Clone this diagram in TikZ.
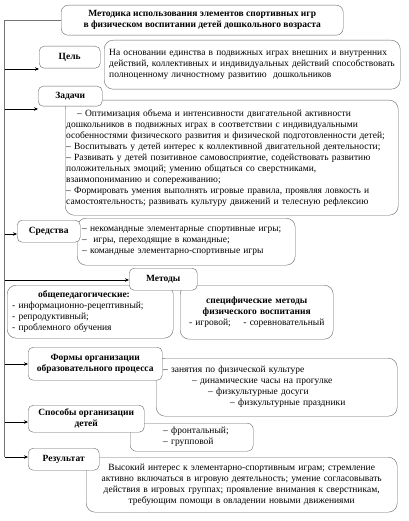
\documentclass[tikz,border=0pt]{standalone}
\usepackage{fontspec}
\setmainfont{Liberation Serif}
\usetikzlibrary{arrows.meta}

\tikzset{
  lbl/.style={draw=black!60, fill=white, rounded corners=5pt, anchor=north west,
    align=center, font=\fontsize{9.5}{11}\selectfont\bfseries, inner sep=1pt},
  txt/.style={draw=black!60, fill=white, rounded corners=9pt, anchor=north west,
    align=left, font=\fontsize{9.5}{11}\selectfont, inner xsep=5pt, inner ysep=1pt},
  trunk/.style={draw=black!55, line width=0.6pt},
  arr/.style={-{Stealth[length=4pt,width=3.5pt]}, line width=0.6pt},
}

\begin{document}
\begin{tikzpicture}[x=1pt,y=-1pt]
  \useasboundingbox (0,0) rectangle (408,521);

  % title
  \node[lbl, minimum width=282pt, minimum height=30pt, rounded corners=7pt] (title) at (61,5)
    {Методика использования элементов спортивных игр\\в физическом воспитании детей дошкольного возраста};

  % text boxes
  \node[txt, text width=286pt, minimum height=49pt] (celT) at (104,40)
    {На основании единства в подвижных играх внешних и внутренних\\
     действий, коллективных и индивидуальных действий способствовать\\
     полноценному личностному развитию\ \ дошкольников};
  \node[txt, text width=331pt, inner xsep=1pt, minimum height=115pt] (zadT) at (65,100)
    {\hspace*{11pt}– Оптимизация объема и интенсивности двигательной активности\\
     дошкольников в подвижных играх в соответствии с индивидуальными\\
     особенностями физического развития и физической подготовленности детей;\\
     – Воспитывать у детей интерес к коллективной двигательной деятельности;\\
     – Развивать у детей позитивное самовосприятие, содействовать развитию\\
     положительных эмоций; умению общаться со сверстниками,\\
     взаимопониманию и сопереживанию;\\
     – Формировать умения выполнять игровые правила, проявляя ловкость и\\
     самостоятельность; развивать культуру движений и телесную рефлексию};
  \node[txt, text width=208pt, minimum height=47pt] (sredT) at (77,218)
    {– некомандные элементарные спортивные игры;\\
     –\ \ игры, переходящие в командные;\\
     – командные элементарно-спортивные игры};
  \node[txt, text width=156pt, minimum height=53pt] (metL) at (7,285)
    {\hspace*{26pt}\textbf{общепедагогические:}\\
     - информационно-рецептивный;\\
     - репродуктивный;\\
     - проблемного обучения};
  \node[txt, text width=143pt, minimum height=54pt, align=center] (metR) at (180,285)
    {\textbf{специфические методы}\\
     \textbf{физического воспитания}\\
     - игровой;\quad\ - соревновательный};
  \node[txt, text width=231pt, minimum height=58pt] (formT) at (156,358)
    {\hspace*{2pt}– занятия по физической культуре\\
     \hspace*{31pt}– динамические часы на прогулке\\
     \hspace*{47pt}– физкультурные досуги\\
     \hspace*{69pt}– физкультурные праздники};
  \node[txt, text width=113pt, minimum height=28pt, rounded corners=6pt] (sposT) at (130,423)
    {\hspace*{28pt}– фронтальный;\\
     \hspace*{28pt}– групповой};
  \node[txt, text width=301pt, minimum height=55pt, align=center] (resT) at (86,457)
    {Высокий интерес к элементарно-спортивным играм; стремление\\
     активно включаться в игровую деятельность; умение согласовывать\\
     действия в игровых группах; проявление внимания к сверстникам,\\
     требующим помощи в овладении новыми движениями};

  % labels
  \node[lbl, minimum width=61pt, minimum height=22pt] (cel) at (39,46) {Цель};
  \node[lbl, minimum width=64pt, minimum height=20pt] (zad) at (38,86) {Задачи};
  \node[lbl, minimum width=63pt, minimum height=22pt] (sred) at (17,220) {Средства};
  \node[lbl, minimum width=68pt, minimum height=22pt] (met) at (129,268) {Методы};
  \node[lbl, minimum width=134pt, minimum height=33pt] (form) at (28,347)
    {Формы организации\\образовательного процесса};
  \node[lbl, minimum width=116pt, minimum height=27pt] (spos) at (28,405)
    {Способы организации\\детей};
  \node[lbl, minimum width=71pt, minimum height=22pt] (res) at (28,448) {Результат};

  % trunk and arrows
  \coordinate (bot) at (4.5,457);
  \draw[trunk] (title.west) -| (bot);
  \foreach \y/\n in {69/cel,109/zad,234/sred,280/met,364/form,422/spos,457/res}{
    \coordinate (a\n) at (4.5,\y);
    \draw[arr] (a\n) -- (a\n -| \n.west);
  }
\end{tikzpicture}
\end{document}
